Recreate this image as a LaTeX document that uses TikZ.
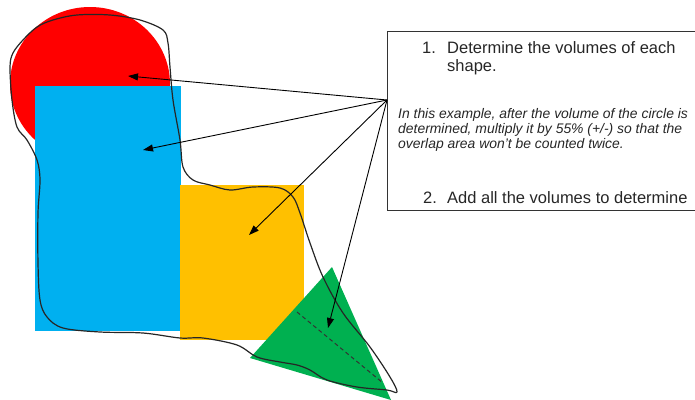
\documentclass[tikz,border=0pt]{standalone}
\usepackage{fontspec}
\setmainfont{Liberation Sans}
\usetikzlibrary{arrows.meta}
\definecolor{cred}{HTML}{FF0000}
\definecolor{cblue}{HTML}{00B0F0}
\definecolor{corange}{HTML}{FFC000}
\definecolor{cgreen}{HTML}{00B050}
\begin{document}
\begin{tikzpicture}[x=1pt,y=-1pt,
  pointer/.style={draw=black, line width=0.9pt, -{Triangle[length=10pt,width=7pt]}},
  outline/.style={draw=black!85, line width=1.2pt, line join=round},
  boxline/.style={draw=black!80, line width=1pt},
  bigtxt/.style={anchor=base west, inner sep=0pt, font=\fontsize{16.5}{19}\selectfont, text=black!85},
  smalltxt/.style={anchor=base west, inner sep=0pt, font=\fontsize{13.9}{15}\selectfont\itshape, text=black!85}]
\useasboundingbox (0,0) rectangle (695,399);
% shapes
\fill[cred] (90,84) ellipse [x radius=80, y radius=77];
\fill[cblue] (35,86) rectangle (181,331);
\fill[corange] (180,185) rectangle (304,340);
\fill[cgreen] (332,267) -- (250,358) -- (391,400) -- cycle;
\draw[black!80, line width=1pt, dash pattern=on 4pt off 3pt] (297,312) -- (383,383);
% freehand outline
\draw[outline] plot[smooth cycle, tension=0.55] coordinates {
 (13,53) (23,40) (37,27) (53,20) (77,15) (110,15) (140,20) (163,30) (168,43)
 (170,67) (173,100) (180,140) (183,167) (193,180) (210,185) (230,190) (253,187)
 (280,188) (293,197) (300,213) (310,243) (323,277) (343,313) (370,347) (390,377)
 (397,392) (387,390) (357,387) (327,380) (310,370) (297,365) (280,362) (257,357)
 (237,345) (203,338) (180,338) (143,333) (100,332) (63,328) (47,317) (40,300)
 (38,263) (38,213) (40,180) (37,160) (27,140) (17,127) (12,100) (10,67)};
% text box
\node[inner sep=0pt, minimum width=310pt, minimum height=179pt, anchor=north west] (box) at (387,31) {};
\draw[boxline] (box.north east) -- (box.north west) -- (box.south west) -- (box.south east);
\node[bigtxt] (n1) at (422,53) {1.};
\node[bigtxt] (t1a) at (447,53) {Determine the volumes of each};
\node[bigtxt] (t1b) at (447,71) {shape.};
\node[smalltxt] (i1) at (398,118) {In this example, after the volume of the circle is};
\node[smalltxt] (i2) at (398,133) {determined, multiply it by 55\% (+/-) so that the};
\node[smalltxt] (i3) at (398,148) {overlap area won’t be counted twice.};
\node[bigtxt] (n2) at (423,203) {2.};
\node[bigtxt] (t2) at (447,203) {Add all the volumes to determine};
% arrows
\coordinate (src) at (387,100);
\coordinate (tred) at (128,76);
\coordinate (tblue) at (143,150);
\coordinate (torange) at (249,235);
\coordinate (tgreen) at (328,328);
\draw[pointer] (src) -- (tred);
\draw[pointer] (src) -- (tblue);
\draw[pointer] (src) -- (torange);
\draw[pointer] (src) -- (tgreen);
\end{tikzpicture}
\end{document}
